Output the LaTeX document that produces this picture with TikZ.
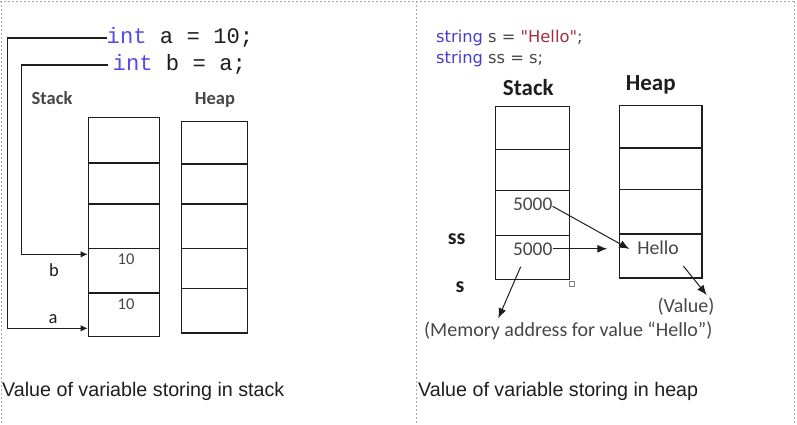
\documentclass[tikz,border=0pt]{standalone}
\usepackage{fontspec}
\setmainfont{Carlito}
\newfontfamily\arialf{Liberation Sans}
\newfontfamily\monof{Liberation Mono}
\newfontfamily\verdf{DejaVu Sans}
\usetikzlibrary{arrows.meta}
\definecolor{kw}{RGB}{85,75,230}
\definecolor{kwb}{RGB}{70,60,205}
\definecolor{strc}{RGB}{163,45,65}
\definecolor{ink}{RGB}{30,30,30}
\definecolor{soft}{RGB}{70,70,70}
\definecolor{frame}{RGB}{170,170,170}
\begin{document}
\begin{tikzpicture}[x=1pt,y=-1pt,
  cell/.style={draw=ink, line width=1.2pt, inner sep=0, anchor=north west},
  lbl/.style={inner sep=0, text=ink},
  arrl/.style={draw=ink, line width=1.2pt, -{Latex[length=7pt,width=6.5pt]}},
  arrr/.style={draw=ink, line width=1pt, -{Latex[length=10pt,width=8pt]}},
  border/.style={draw=frame, line width=0.8pt, dash pattern=on 2pt off 2pt}]
\useasboundingbox (0,0) rectangle (797,425);
% frame
\draw[border] (0,1) -- (794,1);
\draw[border] (1,1) -- (1,425);
\draw[border] (416.7,1) -- (416.7,425);
\draw[border] (794,1) -- (794,425);

% ---------- left panel ----------
\node[lbl, anchor=base west, font=\monof\fontsize{22.2}{24}\selectfont] (codea) at (106.5,44) {\textcolor{kw}{int} a = 10;};
\node[lbl, anchor=base west, font=\monof\fontsize{22.2}{24}\selectfont] (codeb) at (112.5,71) {\textcolor{kw}{int} b = a;};
\node[lbl, anchor=base, font=\bfseries\fontsize{18.5}{20}\selectfont, text=soft] (lstack) at (52,104.3) {Stack};
\node[lbl, anchor=base, font=\bfseries\fontsize{18.5}{20}\selectfont, text=soft] (lheap) at (215,104.3) {Heap};

\node[cell, minimum width=71pt, minimum height=45pt] (ls1) at (87.7,117.3) {};
\node[cell, minimum width=71pt, minimum height=41pt] (ls2) at (87.7,162.3) {};
\node[cell, minimum width=71pt, minimum height=44.4pt] (ls3) at (87.7,203.3) {};
\node[cell, minimum width=71pt, minimum height=44.6pt] (ls4) at (87.7,247.7) {};
\node[cell, minimum width=71pt, minimum height=43.7pt] (ls5) at (87.7,292.3) {};

\node[cell, minimum width=66pt, minimum height=42.6pt] (lh1) at (180.7,120.7) {};
\node[cell, minimum width=66pt, minimum height=40pt] (lh2) at (180.7,163.3) {};
\node[cell, minimum width=66pt, minimum height=44.4pt] (lh3) at (180.7,203.3) {};
\node[cell, minimum width=66pt, minimum height=40pt] (lh4) at (180.7,247.7) {};
\node[cell, minimum width=66pt, minimum height=44.6pt] (lh5) at (180.7,287.7) {};

\node[lbl, anchor=base, font=\fontsize{16.5}{18}\selectfont, text=soft] (v10b) at (126,264) {10};
\node[lbl, anchor=base, font=\fontsize{16.5}{18}\selectfont, text=soft] (v10a) at (126,309) {10};
\node[lbl, anchor=base, font=\fontsize{18.5}{20}\selectfont] (nb) at (54,276) {b};
\node[lbl, anchor=base, font=\fontsize{18.5}{20}\selectfont] (na) at (53,323.3) {a};

\coordinate (ca) at (7.3,328.3);
\coordinate (cb) at (21.3,254.3);
\draw[arrl] (codea.west) -| (ca) -- (ca -| ls5.west);
\draw[arrl, shorten <=5pt] (codeb.west) -| (cb) -- (cb -| ls4.west);

\node[lbl, anchor=base west, font=\arialf\fontsize{19.7}{22}\selectfont] (capl) at (2,396.7) {Value of variable storing in stack};

% ---------- right panel ----------
\node[lbl, anchor=base west, font=\verdf\fontsize{16.3}{18}\selectfont, text=soft] (codes) at (436,42.3) {\textcolor{kwb}{string} s = \textcolor{strc}{"Hello"};};
\node[lbl, anchor=base west, font=\verdf\fontsize{16.3}{18}\selectfont, text=soft] (codess) at (436,64) {\textcolor{kwb}{string} ss = s;};
\node[lbl, anchor=base, font=\bfseries\fontsize{23}{25}\selectfont] (rstack) at (528.3,95.7) {Stack};
\node[lbl, anchor=base, font=\bfseries\fontsize{23}{25}\selectfont] (rheap) at (650.7,90.7) {Heap};

\node[cell, minimum width=73.7pt, minimum height=42.7pt] (rs1) at (495,106) {};
\node[cell, minimum width=73.7pt, minimum height=41.3pt] (rs2) at (495,148.7) {};
\node[cell, minimum width=73.7pt, minimum height=45pt] (rs3) at (495,190) {};
\node[cell, minimum width=73.7pt, minimum height=43.7pt] (rs4) at (495,235) {};

\node[cell, minimum width=82.6pt, minimum height=42.3pt] (rh1) at (618.7,105) {};
\node[cell, minimum width=82.6pt, minimum height=41.2pt] (rh2) at (618.7,147.3) {};
\node[cell, minimum width=82.6pt, minimum height=44.8pt] (rh3) at (618.7,188.5) {};
\node[cell, minimum width=82.6pt, minimum height=44pt] (rh4) at (618.7,233.3) {};

\node[draw=gray, fill=white, line width=0.6pt, minimum size=5pt, inner sep=0] (hd) at (571.7,283.3) {};

\node[lbl, anchor=base, font=\fontsize{19.4}{21}\selectfont, text=soft] (u5000) at (532.7,210) {5000};
\node[lbl, anchor=base, font=\fontsize{19.4}{21}\selectfont, text=soft] (l5000) at (532.7,255) {5000};
\node[lbl, anchor=base, font=\fontsize{19.7}{21}\selectfont, text=soft] (hello) at (658,254) {Hello};
\node[lbl, anchor=base, font=\bfseries\fontsize{22}{24}\selectfont] (nss) at (456.7,244) {ss};
\node[lbl, anchor=base, font=\bfseries\fontsize{22}{24}\selectfont] (ns) at (460,292.7) {s};
\node[lbl, anchor=base, font=\fontsize{20}{22}\selectfont, text=soft] (val) at (686,312.3) {(Value)};
\node[lbl, anchor=base, font=\fontsize{20}{22}\selectfont, text=soft] (mem) at (568.3,336.7) {(Memory address for value “Hello”)};

\coordinate (h1) at (629.3,249);
\coordinate (m3) at (520.7,266.7);
\coordinate (m3t) at (498.3,318.3);
\coordinate (v4) at (683.3,266);
\coordinate (v4t) at (706.7,295);
\draw[arrr] ([yshift=-2.5pt]u5000.east) -- (h1);
\draw[arrr, shorten >=11.4pt] (l5000.east) -- (l5000.east -| rh4.west);
\draw[arrr] (m3) -- (m3t);
\draw[arrr] (v4) -- (v4t);

\node[lbl, anchor=base west, font=\arialf\fontsize{19.7}{22}\selectfont] (capr) at (418,396) {Value of variable storing in heap};
\end{tikzpicture}
\end{document}
